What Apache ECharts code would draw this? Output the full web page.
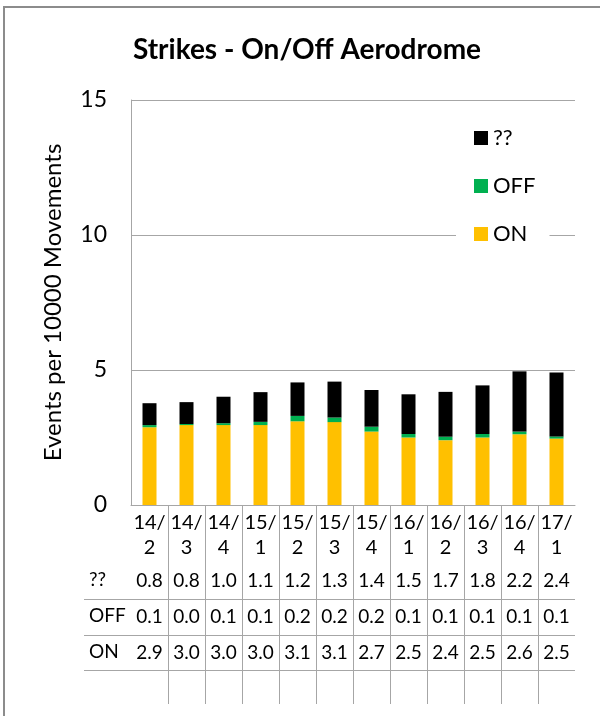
<!DOCTYPE html>
<html>
<head>
<meta charset="utf-8">
<script src="https://cdn.jsdelivr.net/npm/echarts@6/dist/echarts.min.js"></script>
<style>
html,body{margin:0;padding:0;background:#fff;}
#chart{width:600px;height:716px;}
</style>
</head>
<body>
<div id="chart"></div>
<script>
var categories = ['14/2','14/3','14/4','15/1','15/2','15/3','15/4','16/1','16/2','16/3','16/4','17/1'];
var onValues = [2.88, 2.96, 2.96, 2.96, 3.1, 3.07, 2.72, 2.5, 2.4, 2.5, 2.62, 2.46];
var offValues = [0.08, 0.04, 0.07, 0.12, 0.2, 0.17, 0.18, 0.13, 0.13, 0.13, 0.1, 0.08];
var unknownValues = [0.81, 0.81, 0.98, 1.1, 1.24, 1.33, 1.36, 1.47, 1.66, 1.8, 2.23, 2.37];
var yTicks = [0, 5, 10, 15];

var FONT = 'Lato, "Noto Sans", sans-serif';
var GRAY = '#a6a6a6';

var chart = echarts.init(document.getElementById('chart'), null, {renderer: 'canvas'});

var option = {
  backgroundColor: '#fff',
  animation: false,
  title: {
    text: 'Strikes - On/Off Aerodrome',
    left: 302, top: 31, textAlign: 'center',
    textStyle: {fontFamily: FONT, fontWeight: 'bold', fontSize: 28, color: '#000'}
  },
  legend: {
    orient: 'vertical',
    left: 456, top: 121,
    backgroundColor: '#fff',
    padding: [6, 14, 6, 18],
    itemWidth: 14, itemHeight: 14, itemGap: 26,
    icon: 'rect',
    data: ['??', 'OFF', 'ON'],
    textStyle: {fontFamily: FONT, fontSize: 22, color: '#000', padding: [0, 0, 0, 0]}
  },
  grid: {left: 131, right: 25, top: 100, bottom: 211, containLabel: false},
  xAxis: {
    type: 'category',
    data: categories,
    axisLine: {lineStyle: {color: GRAY, width: 1}},
    axisTick: {show: false},
    axisLabel: {
      interval: 0, margin: 5,
      fontFamily: FONT, fontSize: 20, lineHeight: 25, color: '#000',
      formatter: function (v) { var p = v.split('/'); return p[0] + '/\n' + p[1]; }
    }
  },
  yAxis: {
    type: 'value', min: yTicks[0], max: yTicks[yTicks.length - 1], interval: 5,
    name: 'Events per 10000 Movements',
    nameLocation: 'middle', nameRotate: 90, nameGap: 66,
    nameTextStyle: {fontFamily: FONT, fontSize: 24, color: '#000'},
    axisLine: {show: true, lineStyle: {color: GRAY, width: 1}},
    axisTick: {show: false},
    splitLine: {lineStyle: {color: GRAY, width: 1}},
    axisLabel: {fontFamily: FONT, fontSize: 23, color: '#000', margin: 24}
  },
  series: [
    {name: 'ON', type: 'bar', stack: 's', data: onValues, barWidth: 14, itemStyle: {color: '#FFC000'}},
    {name: 'OFF', type: 'bar', stack: 's', data: offValues, barWidth: 14, itemStyle: {color: '#00B050'}},
    {name: '??', type: 'bar', stack: 's', data: unknownValues, barWidth: 14, itemStyle: {color: '#000000'}}
  ]
};
chart.setOption(option);

// Data table below the plot, positioned from the category scale
var rows = [
  {label: '??', values: unknownValues, y: 581},
  {label: 'OFF', values: offValues, y: 617},
  {label: 'ON', values: onValues, y: 653}
];
var rowLines = [599, 635, 670];
var g = [];
var c0 = chart.convertToPixel({xAxisIndex: 0}, 0);
var c1 = chart.convertToPixel({xAxisIndex: 0}, 1);
var band = c1 - c0;
var plotRight = chart.convertToPixel({xAxisIndex: 0}, categories.length - 1) + band / 2;
var lineStyle = {stroke: GRAY, lineWidth: 1};

for (var i = 1; i < categories.length; i++) {
  var bx = Math.round(chart.convertToPixel({xAxisIndex: 0}, i) - band / 2) + 0.5;
  g.push({type: 'line', shape: {x1: bx, y1: 505, x2: bx, y2: 704}, style: lineStyle, silent: true});
}
rowLines.forEach(function (ly) {
  g.push({type: 'line', shape: {x1: 84, y1: ly + 0.5, x2: plotRight, y2: ly + 0.5}, style: lineStyle, silent: true});
});
rows.forEach(function (r) {
  g.push({type: 'text', left: 89, top: r.y - 11, style: {text: r.label, fontFamily: FONT, fontSize: 19, fill: '#000'}, silent: true});
  r.values.forEach(function (v, i) {
    var cx = chart.convertToPixel({xAxisIndex: 0}, i);
    g.push({type: 'text', x: cx, y: r.y, style: {text: v.toFixed(1), fontFamily: FONT, fontSize: 19, fill: '#000', align: 'center', verticalAlign: 'middle'}, silent: true});
  });
});
// outer chart frame
g.push({type: 'rect', shape: {x: 4, y: 7, width: 620, height: 740}, style: {fill: 'none', stroke: '#8c8c8c', lineWidth: 2}, silent: true});

chart.setOption({graphic: g});
</script>
</body>
</html>
